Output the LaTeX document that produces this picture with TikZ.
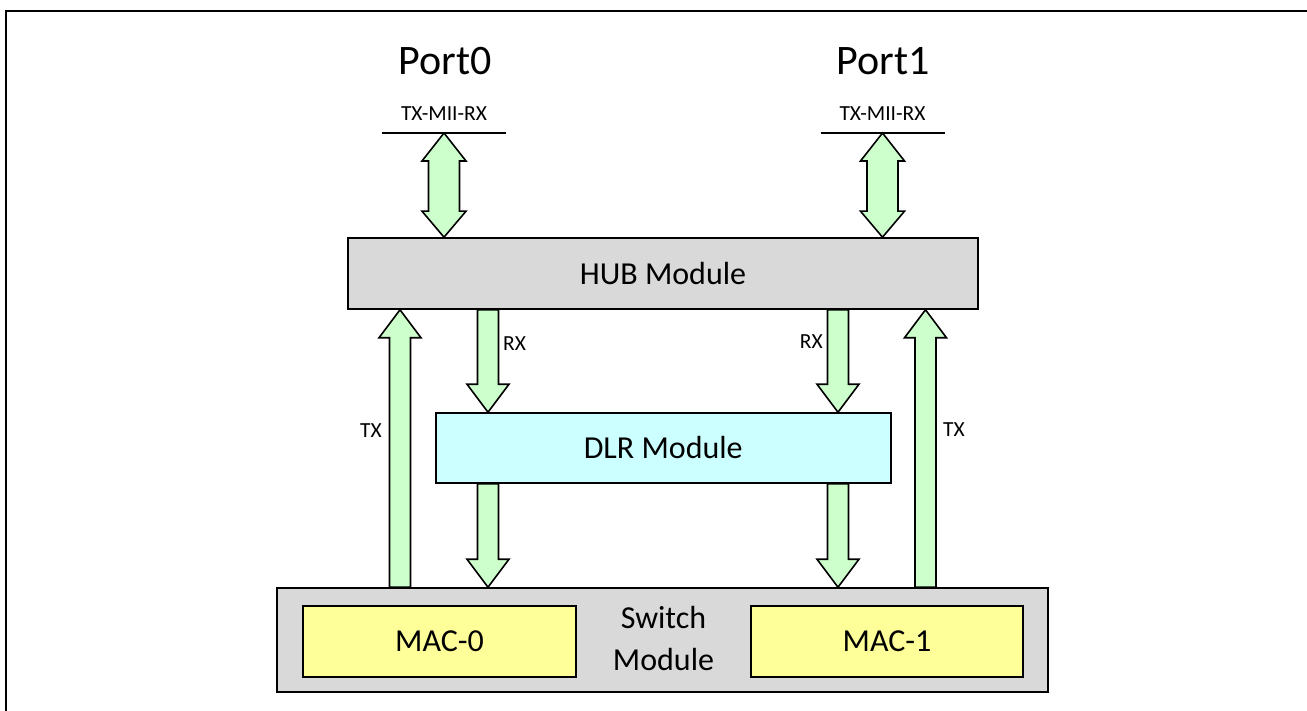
\documentclass[tikz,border=0pt]{standalone}
\usepackage{fontspec}
\setmainfont{Carlito}
\usetikzlibrary{calc}
\definecolor{hubgray}{HTML}{D9D9D9}
\definecolor{dlrcyan}{HTML}{CCFFFF}
\definecolor{macyellow}{HTML}{FFFF99}
\definecolor{arrgreen}{HTML}{CCFFCC}
\newcommand\blkarrow[2]{%
  \draw[blkarr] let \p1=(#1), \p2=(#2), \n1={ifthenelse(\y2>\y1,1,-1)} in
    (\x1-10.5pt,\y1) -- (\x1-10.5pt,\y2-\n1*28pt) -- (\x1-21pt,\y2-\n1*28pt) --
    (\x1,\y2) -- (\x1+21pt,\y2-\n1*28pt) -- (\x1+10.5pt,\y2-\n1*28pt) --
    (\x1+10.5pt,\y1) -- cycle;}
\newcommand\dblarrow[2]{%
  \draw[blkarr] let \p1=(#1), \p2=(#2) in
    (\x1,\y1) -- (\x1+22pt,\y1-28pt) -- (\x1+15.5pt,\y1-28pt) --
    (\x1+15.5pt,\y2+26pt) -- (\x1+22pt,\y2+26pt) -- (\x1,\y2) --
    (\x1-22pt,\y2+26pt) -- (\x1-15.5pt,\y2+26pt) -- (\x1-15.5pt,\y1-28pt) --
    (\x1-22pt,\y1-28pt) -- cycle;}
\begin{document}
\begin{tikzpicture}[x=1pt,y=-1pt,
  box/.style={draw=black, line width=1.6pt, inner sep=0pt, font=\fontsize{32}{38}\selectfont},
  blkarr/.style={draw=black, fill=arrgreen, line width=1.6pt, line join=miter},
  small/.style={inner sep=0pt, font=\fontsize{21.5}{24}\selectfont},
  portlbl/.style={inner sep=0pt, anchor=base, font=\fontsize{42}{48}\selectfont},
  bar/.style={line width=1.8pt}]
\useasboundingbox (0,0) rectangle (1307,711);
\draw[line width=2.2pt] (6,711) -- (6,11) -- (1307,11);

% modules
\node[box, fill=hubgray, minimum width=630pt, minimum height=71pt] (hub) at (663,273.5) {HUB Module};
\node[box, fill=dlrcyan, minimum width=455pt, minimum height=70pt] (dlr) at (663.25,448) {DLR Module};
\node[box, fill=hubgray, minimum width=771pt, minimum height=104pt] (sw) at (662.5,640) {};
\node[box, fill=macyellow, minimum width=273pt, minimum height=71pt] (mac0) at (439.5,641.5) {MAC-0};
\node[box, fill=macyellow, minimum width=272pt, minimum height=71pt] (mac1) at (887,641.5) {MAC-1};
\node[inner sep=0pt, align=center, font=\fontsize{32}{42}\selectfont] (swlbl) at (663.5,639) {Switch\\Module};

% ports
\node[portlbl] (port0) at (445,75) {Port0};
\node[portlbl] (port1) at (883,75) {Port1};
\node[small, anchor=base] (mii0) at (444,121) {TX-MII-RX};
\node[small, anchor=base] (mii1) at (882.5,121) {TX-MII-RX};
\coordinate (p0) at (444,133);
\coordinate (p1) at (882.5,133);
\draw[bar] ($(p0)+(-62,0)$) -- ($(p0)+(62,0)$);
\draw[bar] ($(p1)+(-62,0)$) -- ($(p1)+(62,0)$);
\dblarrow{p0}{p0 |- hub.north}
\dblarrow{p1}{p1 |- hub.north}

% arrow columns
\coordinate (txl) at (400,0);
\coordinate (rxl) at (488,0);
\coordinate (rxr) at (838,0);
\coordinate (txr) at (925.5,0);

\blkarrow{txl |- sw.north}{txl |- hub.south}
\blkarrow{txr |- sw.north}{txr |- hub.south}
\blkarrow{rxl |- hub.south}{rxl |- dlr.north}
\blkarrow{rxr |- hub.south}{rxr |- dlr.north}
\blkarrow{rxl |- dlr.south}{rxl |- sw.north}
\blkarrow{rxr |- dlr.south}{rxr |- sw.north}

% labels
\node[small, anchor=west] (rxlbl0) at (503,344) {RX};
\node[small, anchor=east] (rxlbl1) at (823,342) {RX};
\node[small, anchor=east] (txlbl0) at (382,431) {TX};
\node[small, anchor=west] (txlbl1) at (943,430) {TX};
\end{tikzpicture}
\end{document}
